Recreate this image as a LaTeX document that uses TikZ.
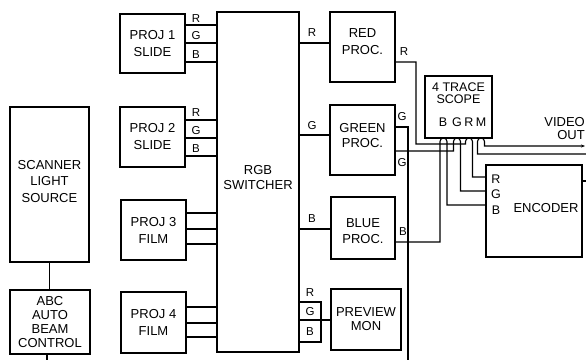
\documentclass[tikz,border=0pt]{standalone}
\usepackage{fontspec}
\setmainfont{Liberation Sans}
\usetikzlibrary{arrows.meta}
\begin{document}
\begin{tikzpicture}[x=1pt,y=-1pt,
  box/.style={draw, line width=1.6pt, inner sep=0pt, align=center, font=\fontsize{13}{16}\selectfont},
  wire/.style={line width=1.1pt},
  lbl/.style={inner sep=0pt, font=\fontsize{11.5}{13}\selectfont},
  txt/.style={inner sep=0pt, align=center, font=\fontsize{13}{15}\selectfont}]
\useasboundingbox (0,0) rectangle (586,360);
% boxes
\node[box, minimum width=65pt, minimum height=59pt, font=\fontsize{13}{17}\selectfont] (p1) at (152.5,43.5) {PROJ 1\\SLIDE};
\node[box, minimum width=65pt, minimum height=60pt, font=\fontsize{13}{17}\selectfont] (p2) at (152.5,137) {PROJ 2\\SLIDE};
\node[box, minimum width=65pt, minimum height=60pt, font=\fontsize{13}{17}\selectfont] (p3) at (153.5,230) {PROJ 3\\FILM};
\node[box, minimum width=65pt, minimum height=61pt, font=\fontsize{13}{17}\selectfont] (p4) at (153.5,322.5) {PROJ 4\\FILM};
\node[box, minimum width=82pt, minimum height=340pt] (sw) at (258,182) {};
\node[txt] (swt) at (258,177.5) {RGB\\SWITCHER};
\node[box, minimum width=79pt, minimum height=155pt] (scan) at (49.5,184.5) {};
\node[txt, font=\fontsize{13}{16.5}\selectfont] (scant) at (49.5,181.5) {SCANNER\\LIGHT\\SOURCE};
\node[box, minimum width=80pt, minimum height=64pt, font=\fontsize{13}{14.3}\selectfont] (abc) at (50,322) {ABC\\AUTO\\BEAM\\CONTROL};
\node[box, minimum width=65pt, minimum height=70pt] (red) at (362.5,47) {};
\node[txt, font=\fontsize{13}{17}\selectfont] (redt) at (362.5,41.5) {RED\\PROC.};
\node[box, minimum width=65pt, minimum height=70pt] (green) at (362.5,140) {};
\node[txt] (greent) at (362.5,135.5) {GREEN\\PROC.};
\node[box, minimum width=64pt, minimum height=62pt] (blue) at (363,228) {};
\node[txt, font=\fontsize{13}{16}\selectfont] (bluet) at (363,231) {BLUE\\PROC.};
\node[box, minimum width=70pt, minimum height=61pt, font=\fontsize{13}{14}\selectfont] (prev) at (366,319.5) {PREVIEW\\MON};
\node[box, minimum width=67pt, minimum height=62pt] (scope) at (458.5,107) {};
\node[txt, font=\fontsize{12.5}{12}\selectfont] (scopet) at (458.5,93) {4 TRACE\\SCOPE};
\node[box, minimum width=96pt, minimum height=92pt] (enc) at (534,211) {};
\node[txt] (enct) at (546,208) {ENCODER};
% scope input labels
\foreach \n/\x in {B/443,G/457,R/469,M/481}
  \node[lbl, font=\fontsize{12.5}{12}\selectfont] (s\n) at (\x,122) {\n};
\node[txt, align=right, anchor=east, font=\fontsize{13}{13}\selectfont] (vout) at (585,128.5) {VIDEO\\OUT};
% projector RGB lines
\foreach \p/\a/\b/\c in {p1/25/43/62, p2/120/138/156, p3/213/229/244, p4/307/323/337}
  \foreach \y in {\a,\b,\c}
    \draw[wire] (\p.east |- 0,\y) -- (sw.west |- 0,\y);
\foreach \n/\y [count=\i] in {R/19,G/36,B/55}
  \node[lbl] (la\i) at (196,\y) {\n};
\foreach \n/\y [count=\i] in {R/113,G/131,B/149}
  \node[lbl] (lb\i) at (196,\y) {\n};
% switcher to processors
\draw[wire] (sw.east |- 0,43) -- (red.west |- 0,43);
\node[lbl] (lr) at (312,33) {R};
\draw[wire] (sw.east |- 0,135) -- (green.west |- 0,135);
\node[lbl] (lg) at (312,126) {G};
\draw[wire] (sw.east |- 0,229) -- (blue.west |- 0,229);
\node[lbl] (lbb) at (312,219) {B};
% preview monitor
\coordinate (pj) at (321,302);
\draw[wire] (sw.east |- 0,302) -- (pj) -- (pj |- 0,342) -- (sw.east |- 0,342);
\draw[wire] (sw.east |- 0,320) -- (prev.west |- 0,320);
\node[lbl] (pr) at (310,293) {R};
\node[lbl] (pg) at (310,312) {G};
\node[lbl] (pb) at (310,332) {B};
% scanner and abc
\draw[wire] (scan.south) -- (scan.south |- abc.north);
\coordinate (abcout) at (47,360);
\draw[wire] (abcout |- abc.south) -- (abcout);
% processor outputs
\node[lbl] (ro) at (404,52) {R};
\node[lbl] (go1) at (402,117) {G};
\node[lbl] (go2) at (402,163) {G};
\node[lbl] (bo) at (403,232) {B};
\coordinate (gdown) at (408,360);
\draw[wire] (green.east |- 0,127) -| (gdown);
% loop-through wiring at scope
\draw[wire] (red.east |- 0,62) -| (416,144) -- (465.5,144) -- (465.5,141.5)
   arc[start angle=180, end angle=360, radius=3.5] -- (472.5,177) -- (enc.west |- 0,177);
\draw[wire] (green.east |- 0,151) -- (453.5,151) -- (453.5,141.5)
   arc[start angle=180, end angle=360, radius=3.5] -- (460.5,191) -- (enc.west |- 0,191);
\draw[wire] (blue.east |- 0,242) -- (440,242) -- (440,141.5)
   arc[start angle=180, end angle=360, radius=3.5] -- (447,205) -- (enc.west |- 0,205);
\coordinate (mret) at (586,154);
\coordinate (vend) at (585,146);
\draw[wire, -{Stealth[length=4pt,width=3pt]}] (mret) -- (477.5,154) -- (477.5,141.5)
   arc[start angle=180, end angle=360, radius=3.5] -- (484.5,146) -- (vend);
\coordinate (encout) at (586,181);
\draw[wire] (enc.east |- encout) -- (encout);
\node[lbl, font=\fontsize{12.5}{13}\selectfont] (er) at (496,179) {R};
\node[lbl, font=\fontsize{12.5}{13}\selectfont] (eg) at (496,194) {G};
\node[lbl, font=\fontsize{12.5}{13}\selectfont] (eb) at (496,210) {B};
\end{tikzpicture}
\end{document}
